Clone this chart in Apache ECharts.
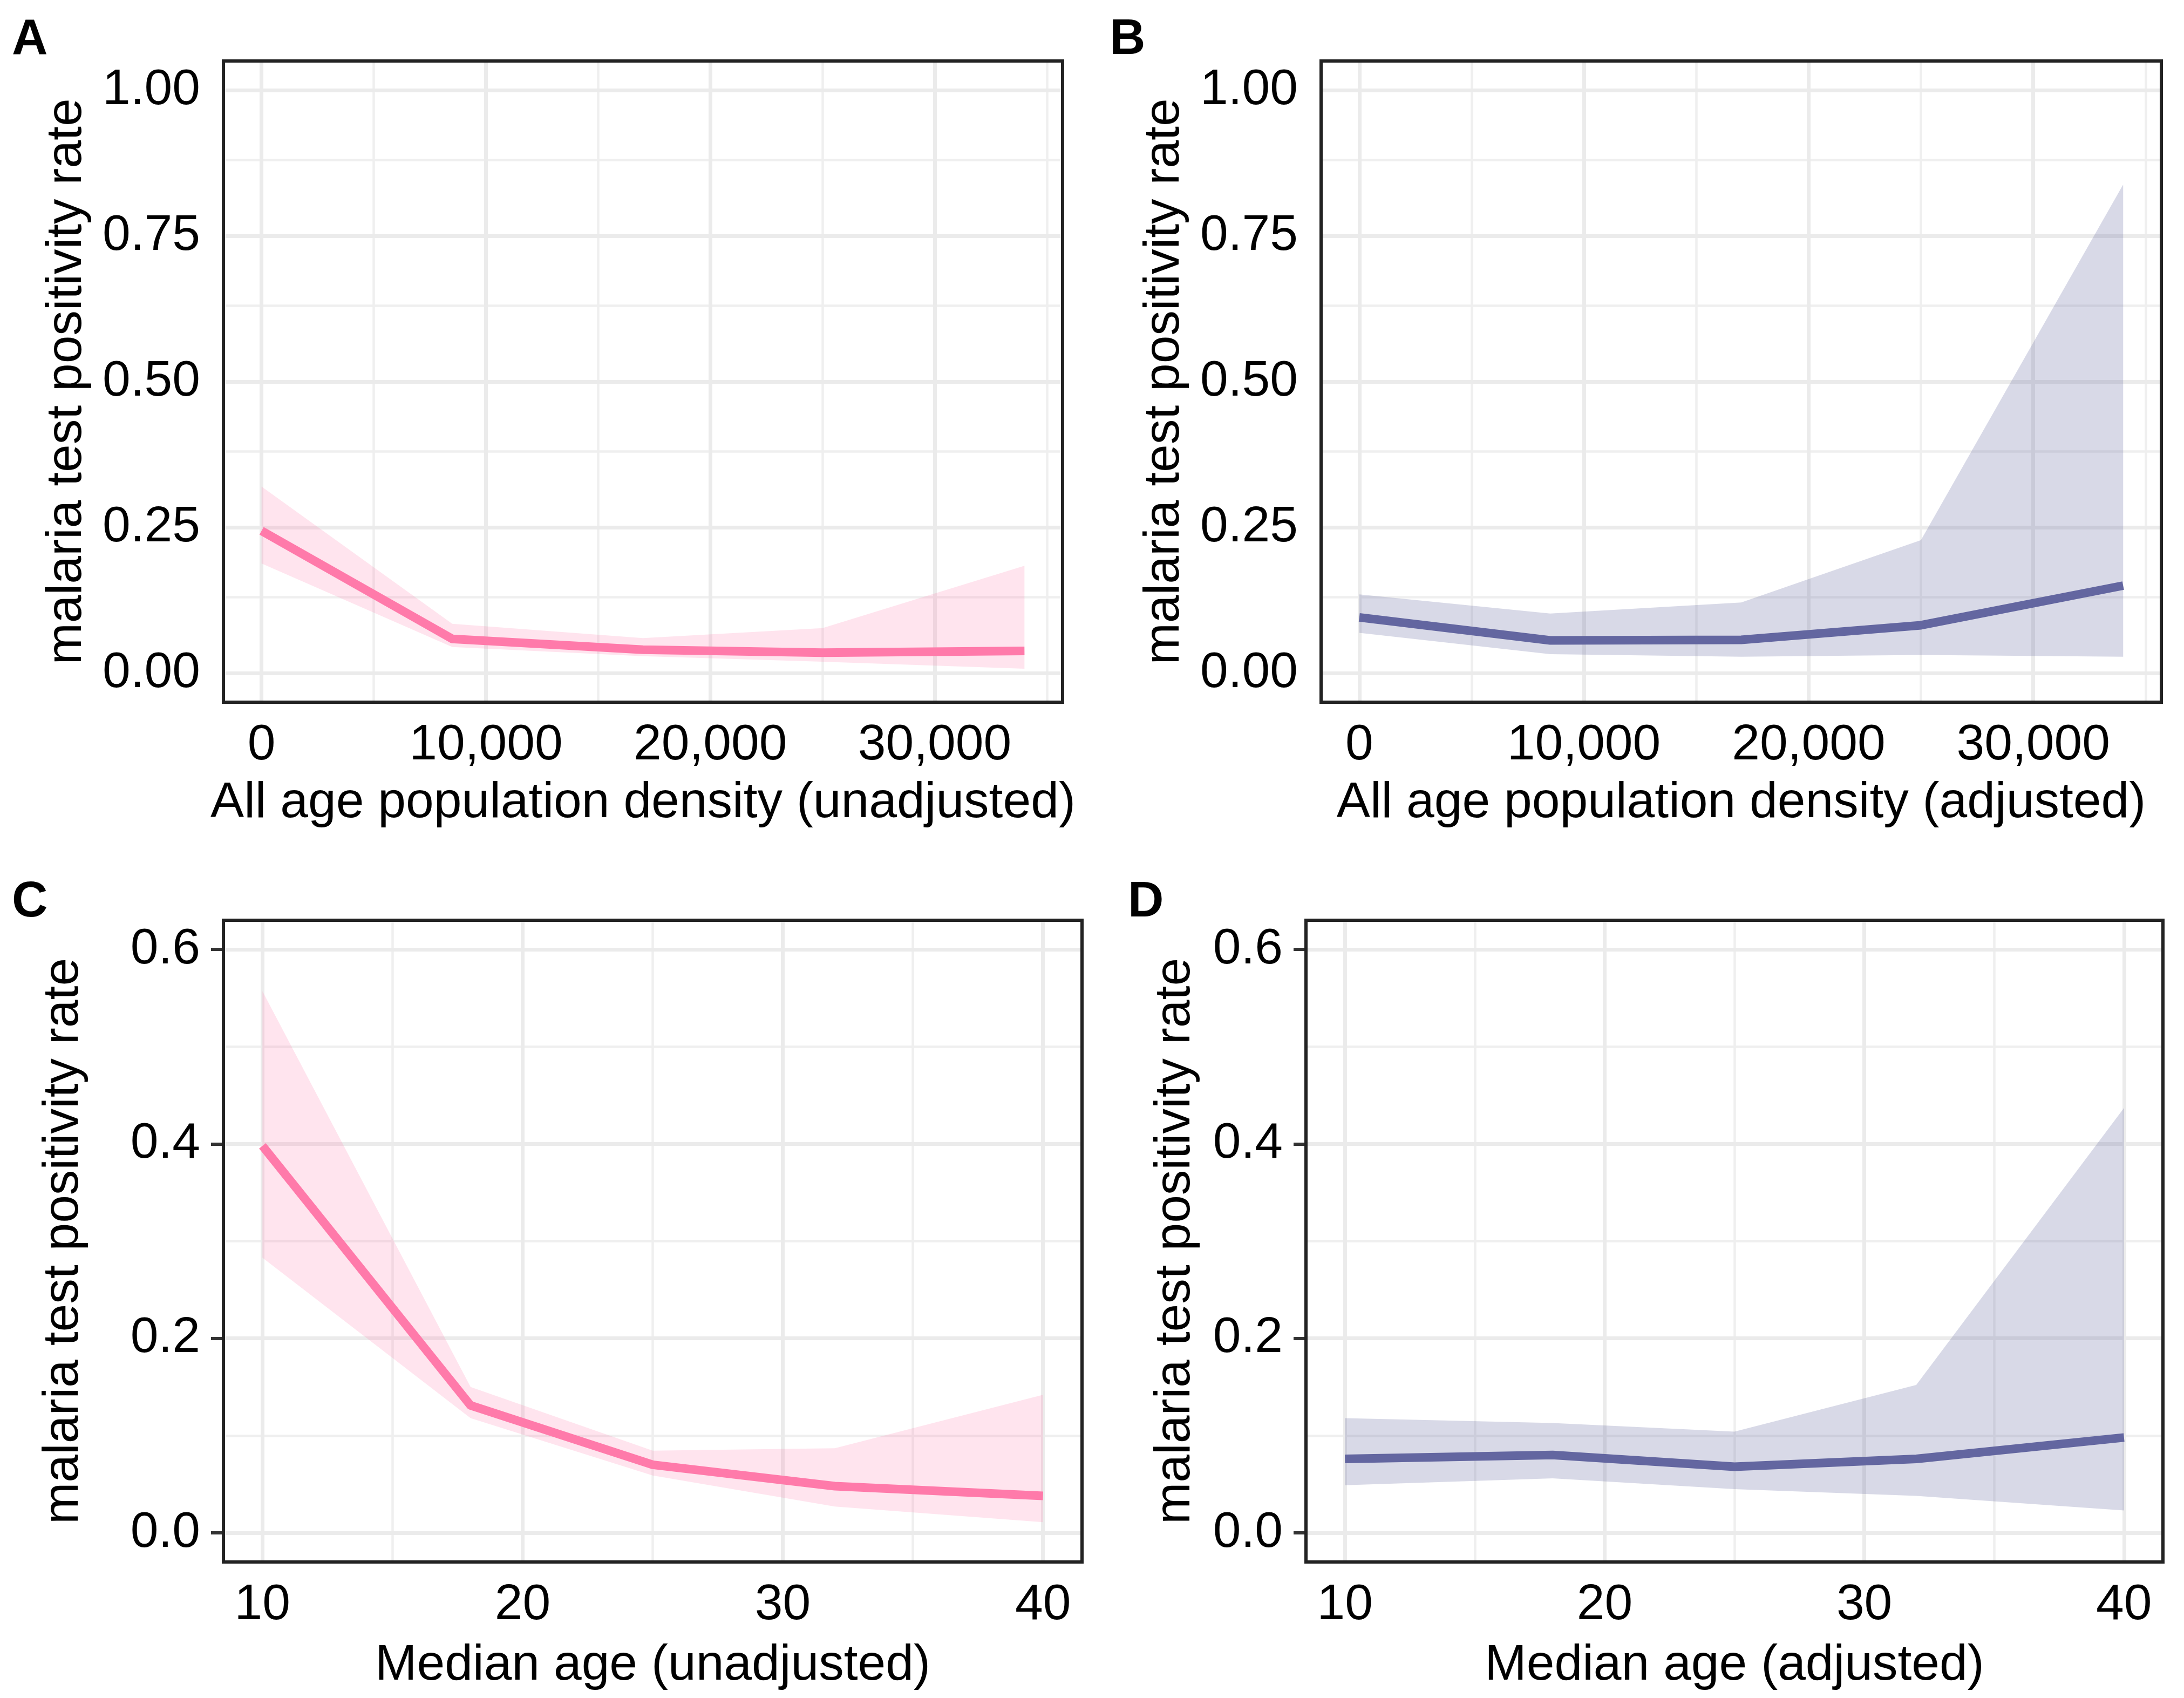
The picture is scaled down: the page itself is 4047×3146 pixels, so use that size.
<!DOCTYPE html>
<html>
<head>
<meta charset="utf-8">
<script src="https://cdn.jsdelivr.net/npm/echarts@6/dist/echarts.min.js"></script>
<style>
html,body{margin:0;padding:0;background:#ffffff;}
#chart{width:4047px;height:3146px;}
</style>
</head>
<body>
<div id="chart"></div>
<script>
// ---------------- data ----------------
const densityX = [0, 8500, 17000, 25000, 34000];
const ageX = [10, 18, 25, 32, 40];

// Panel A: population density (unadjusted)
const densUnadjFit   = [0.244, 0.0585, 0.040, 0.035, 0.038];
const densUnadjUpper = [0.320, 0.0845, 0.060, 0.077, 0.184];
const densUnadjLower = [0.188, 0.0446, 0.029, 0.0195, 0.0074];

// Panel B: population density (adjusted)
const densAdjFit   = [0.0955, 0.056, 0.057, 0.082, 0.150];
const densAdjUpper = [0.135, 0.102, 0.121, 0.228, 0.838];
const densAdjLower = [0.069, 0.0325, 0.028, 0.031, 0.028];

// Panel C: median age (unadjusted)
const ageUnadjFit   = [0.398, 0.131, 0.070, 0.048, 0.038];
const ageUnadjUpper = [0.557, 0.150, 0.0845, 0.087, 0.142];
const ageUnadjLower = [0.283, 0.118, 0.059, 0.027, 0.011];

// Panel D: median age (adjusted)
const ageAdjFit   = [0.076, 0.080, 0.068, 0.076, 0.098];
const ageAdjUpper = [0.118, 0.113, 0.104, 0.152, 0.437];
const ageAdjLower = [0.049, 0.056, 0.045, 0.038, 0.023];

// tick labels / grid positions
const densityTicks = [0, 10000, 20000, 30000];
const densityMinor = [5000, 15000, 25000, 35000];
const rateTicksAB  = [0, 0.25, 0.5, 0.75, 1];
const rateMinorAB  = [0.125, 0.375, 0.625, 0.875];
const ageTicks     = [10, 20, 30, 40];
const ageMinor     = [15, 25, 35];
const rateTicksCD  = [0, 0.2, 0.4, 0.6];
const rateMinorCD  = [0.1, 0.3, 0.5];

const yTitle = 'malaria test positivity rate';

// ---------------- styling ----------------
const FONT = '"Liberation Sans", Arial, Helvetica, sans-serif';
const FS = 93;
const PINK = '#FF7AAA', PINK_FILL = 'rgba(255,122,170,0.20)';
const PURPLE = '#6366A0', PURPLE_FILL = 'rgba(99,102,160,0.25)';
const GRID_MAJOR = '#EBEBEB', GRID_MINOR = '#EFEFEF';

const fmtComma = v => String(Math.round(v)).replace(/\B(?=(\d{3})+(?!\d))/g, ',');

const panels = [
  { label: 'A', labelPos: [22, 29],
    rect: { left: 414, top: 113, width: 1555, height: 1188 },
    x: densityX, fit: densUnadjFit, upper: densUnadjUpper, lower: densUnadjLower,
    xMin: -1700, xMax: 35700, yMin: -0.05, yMax: 1.05,
    xTicks: densityTicks, xMinor: densityMinor, yTicks: rateTicksAB, yMinor: rateMinorAB,
    xFmt: fmtComma, yFmt: v => v.toFixed(2),
    xName: 'All age population density (unadjusted)', xGap: 141, yGap: 243,
    color: PINK, fill: PINK_FILL },
  { label: 'B', labelPos: [2056, 29],
    rect: { left: 2448, top: 113, width: 1557, height: 1188 },
    x: densityX, fit: densAdjFit, upper: densAdjUpper, lower: densAdjLower,
    xMin: -1700, xMax: 35700, yMin: -0.05, yMax: 1.05,
    xTicks: densityTicks, xMinor: densityMinor, yTicks: rateTicksAB, yMinor: rateMinorAB,
    xFmt: fmtComma, yFmt: v => v.toFixed(2),
    xName: 'All age population density (adjusted)', xGap: 141, yGap: 243,
    color: PURPLE, fill: PURPLE_FILL },
  { label: 'C', labelPos: [22, 1627],
    rect: { left: 414, top: 1705, width: 1591, height: 1189 },
    x: ageX, fit: ageUnadjFit, upper: ageUnadjUpper, lower: ageUnadjLower,
    xMin: 8.5, xMax: 41.5, yMin: -0.03, yMax: 0.63,
    xTicks: ageTicks, xMinor: ageMinor, yTicks: rateTicksCD, yMinor: rateMinorCD,
    xFmt: v => String(v), yFmt: v => v.toFixed(1),
    xName: 'Median age (unadjusted)', xGap: 146, yGap: 249,
    color: PINK, fill: PINK_FILL },
  { label: 'D', labelPos: [2090, 1627],
    rect: { left: 2420, top: 1705, width: 1588, height: 1189 },
    x: ageX, fit: ageAdjFit, upper: ageAdjUpper, lower: ageAdjLower,
    xMin: 8.5, xMax: 41.5, yMin: -0.03, yMax: 0.63,
    xTicks: ageTicks, xMinor: ageMinor, yTicks: rateTicksCD, yMinor: rateMinorCD,
    xFmt: v => String(v), yFmt: v => v.toFixed(1),
    xName: 'Median age (adjusted)', xGap: 146, yGap: 195,
    color: PURPLE, fill: PURPLE_FILL }
];

const option = {
  backgroundColor: '#ffffff',
  animation: false,
  title: [], grid: [], xAxis: [], yAxis: [], series: []
};

panels.forEach((p, i) => {
  option.title.push({
    text: p.label, left: p.labelPos[0], top: p.labelPos[1], padding: 0,
    textStyle: { fontFamily: FONT, fontSize: 92, fontWeight: 'bold', color: '#000' }
  });
  option.grid.push(Object.assign({
    show: true, z: 10, backgroundColor: 'transparent',
    borderColor: '#222222', borderWidth: 6, containLabel: false, outerBoundsMode: 'none'
  }, p.rect));

  option.xAxis.push({
    gridIndex: i, type: 'value', min: p.xMin, max: p.xMax,
    axisLine: { show: false },
    axisTick: { show: true, customValues: p.xTicks, length: 23, lineStyle: { color: '#333333', width: 6 } },
    axisLabel: { customValues: p.xTicks, formatter: p.xFmt, fontFamily: FONT, fontSize: FS, color: '#000', margin: 34 },
    splitLine: { show: false },
    name: p.xName, nameLocation: 'middle', nameGap: p.xGap,
    nameTextStyle: { fontFamily: FONT, fontSize: FS, color: '#000' }
  });
  option.yAxis.push({
    gridIndex: i, type: 'value', min: p.yMin, max: p.yMax,
    axisLine: { show: false },
    axisTick: { show: true, customValues: p.yTicks, length: 23, lineStyle: { color: '#333333', width: 6 } },
    axisLabel: { customValues: p.yTicks, formatter: p.yFmt, fontFamily: FONT, fontSize: FS, color: '#000', margin: 43 },
    splitLine: { show: false },
    name: yTitle, nameLocation: 'middle', nameGap: p.yGap, nameRotate: 90,
    nameTextStyle: { fontFamily: FONT, fontSize: FS, color: '#000' }
  });

  // grid lines through markLine (positioned by the axes' scales)
  const gl = [];
  p.xMinor.forEach(v => gl.push({ xAxis: v, lineStyle: { color: GRID_MINOR, width: 4.5, type: 'solid' } }));
  p.yMinor.forEach(v => gl.push({ yAxis: v, lineStyle: { color: GRID_MINOR, width: 4.5, type: 'solid' } }));
  p.xTicks.forEach(v => gl.push({ xAxis: v, lineStyle: { color: GRID_MAJOR, width: 7, type: 'solid' } }));
  p.yTicks.forEach(v => gl.push({ yAxis: v, lineStyle: { color: GRID_MAJOR, width: 7, type: 'solid' } }));

  option.series.push({
    type: 'line', xAxisIndex: i, yAxisIndex: i, z: 1, silent: true,
    data: p.x.map((v, k) => [v, p.fit[k]]),
    showSymbol: false, lineStyle: { opacity: 0, width: 0 },
    markLine: {
      z: 1, silent: true, symbol: ['none', 'none'], label: { show: false },
      emphasis: { disabled: true }, animation: false,
      data: gl
    }
  });

  // confidence ribbon
  option.series.push({
    type: 'custom', xAxisIndex: i, yAxisIndex: i, z: 2, silent: true,
    data: p.x.map((v, k) => [v, p.lower[k], p.upper[k]]),
    encode: { x: 0, y: [1, 2] },
    renderItem: function (params, api) {
      if (params.dataIndex !== 0) return { type: 'group', children: [] };
      const pts = [];
      for (let k = 0; k < p.x.length; k++) pts.push(api.coord([p.x[k], p.upper[k]]));
      for (let k = p.x.length - 1; k >= 0; k--) pts.push(api.coord([p.x[k], p.lower[k]]));
      return { type: 'polygon', shape: { points: pts }, style: { fill: p.fill, stroke: null } };
    }
  });

  // fitted line
  option.series.push({
    type: 'line', xAxisIndex: i, yAxisIndex: i, z: 3, silent: true,
    data: p.x.map((v, k) => [v, p.fit[k]]),
    showSymbol: false, symbol: 'none',
    lineStyle: { color: p.color, width: 16, cap: 'butt', join: 'round' }
  });
});

const chart = echarts.init(document.getElementById('chart'), null, { renderer: 'canvas', width: 4047, height: 3146 });
chart.setOption(option);
</script>
</body>
</html>
